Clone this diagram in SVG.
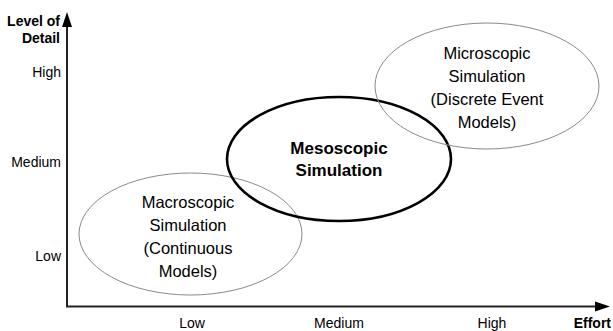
<svg xmlns="http://www.w3.org/2000/svg" width="613" height="331" viewBox="0 0 613 331">
<style>
.ax{font-family:"Liberation Sans",Arial,sans-serif;font-size:14px;fill:#000}
.axb{font-family:"Liberation Sans",Arial,sans-serif;font-size:14px;font-weight:bold;fill:#000}
.lbl{font-family:"Liberation Sans",Arial,sans-serif;font-size:16.5px;fill:#000;text-anchor:middle}
.lblb{font-family:"Liberation Sans",Arial,sans-serif;font-size:17px;font-weight:bold;fill:#000;text-anchor:middle}
.thin{fill:none;stroke:#8a8a8a;stroke-width:1}
.thick{fill:none;stroke:#000;stroke-width:2.6}
.axis{fill:none;stroke:#222;stroke-width:2}
</style>
<rect width="613" height="331" fill="#fff"/>
<g id="axes">
<path class="axis" d="M67,27 V306.5 H596"/>
<polygon points="67,12 62,27 72,27" fill="#000"/>
<polygon points="610,306.5 595,301.5 595,311.5" fill="#000"/>
<text class="axb" x="60" y="26" text-anchor="end">Level of</text>
<text class="axb" x="60" y="43" text-anchor="end">Detail</text>
<text class="ax" x="61" y="77" text-anchor="end">High</text>
<text class="ax" x="61" y="167" text-anchor="end">Medium</text>
<text class="ax" x="61" y="261" text-anchor="end">Low</text>
<text class="ax" x="192" y="328" text-anchor="middle">Low</text>
<text class="ax" x="339" y="328" text-anchor="middle">Medium</text>
<text class="ax" x="492" y="328" text-anchor="middle">High</text>
<text class="axb" x="611" y="328" text-anchor="end">Effort</text>
</g>
<g id="macro">
<ellipse class="thin" cx="190.5" cy="234" rx="111.5" ry="61"/>
<text class="lbl" x="188" y="208">Macroscopic</text>
<text class="lbl" x="188" y="231">Simulation</text>
<text class="lbl" x="188" y="254">(Continuous</text>
<text class="lbl" x="188" y="277">Models)</text>
</g>
<g id="meso">
<ellipse class="thick" cx="339" cy="159" rx="112" ry="62"/>
<text class="lblb" x="339" y="154">Mesoscopic</text>
<text class="lblb" x="339" y="176">Simulation</text>
</g>
<g id="micro">
<ellipse class="thin" cx="487" cy="86" rx="112" ry="63"/>
<text class="lbl" x="487" y="59">Microscopic</text>
<text class="lbl" x="487" y="82">Simulation</text>
<text class="lbl" x="487" y="105">(Discrete Event</text>
<text class="lbl" x="487" y="128">Models)</text>
</g>
</svg>
